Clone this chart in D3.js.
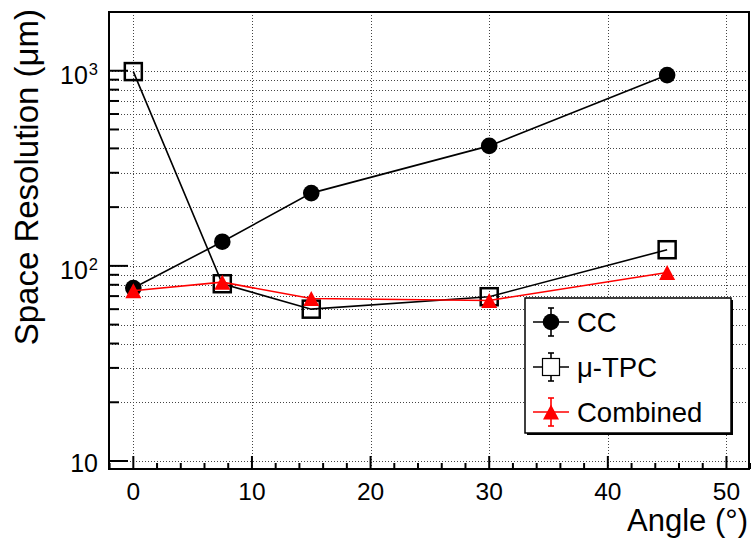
<!DOCTYPE html>
<html>
<head>
<meta charset="utf-8">
<script src="https://cdn.jsdelivr.net/npm/d3@7"></script>
<style>
  body { margin: 0; background: #fff; }
  svg { font-family: "Liberation Sans", Arial, Helvetica, sans-serif; }
</style>
</head>
<body>
<div id="chart"></div>
<script>
// Angles (degrees) of the measurements.
const angles = [0, 7.5, 15, 30, 45];

// Space resolution values (um).
const ccValues = [77, 133, 236, 412, 950];
const tpcValues = [990, 81, 60, 69.5, 121];
const combinedValues = [74.5, 82.5, 68, 66.5, 92.5];

const xMajorTicks = [0, 10, 20, 30, 40, 50];
const xMinorTicks = [-2, 2, 4, 6, 8, 12, 14, 16, 18, 22, 24, 26, 28, 32, 34, 36, 38, 42, 44, 46, 48, 52];
const yMajorTicks = [10, 100, 1000];
const yMinorTicks = [20, 30, 40, 50, 60, 70, 80, 90, 200, 300, 400, 500, 600, 700, 800, 900, 2000];

const legendLabels = ['CC', 'μ-TPC', 'Combined'];

(function() {
  // Visualization size.
  const width = 751;
  const height = 540;

  // Frame of the plot.
  const left = 109, right = 749, top = 12, bottom = 469;

  const svg = d3.select('#chart')
    .append('svg')
    .attr('width', width)
    .attr('height', height);

  const x = d3.scaleLinear().domain([-2.05, 51.9]).range([left, right]);
  const y = d3.scaleLog().domain([9.1, 2000]).range([bottom, top]);

  // Dotted grid.
  const grid = svg.append('g').classed('grid', true)
    .style('stroke', '#444')
    .style('stroke-width', 1)
    .style('stroke-dasharray', '1,2');

  grid.selectAll('line.gx')
    .data(xMajorTicks)
    .enter()
    .append('line')
    .attr('x1', d => Math.round(x(d)) + 0.5)
    .attr('x2', d => Math.round(x(d)) + 0.5)
    .attr('y1', top)
    .attr('y2', bottom);

  grid.selectAll('line.gy')
    .data(yMajorTicks.concat(yMinorTicks).filter(d => d < 2000))
    .enter()
    .append('line')
    .attr('x1', left)
    .attr('x2', right)
    .attr('y1', d => Math.round(y(d)) + 0.5)
    .attr('y2', d => Math.round(y(d)) + 0.5);

  // Ticks.
  const ticks = svg.append('g').style('stroke', '#000').style('stroke-width', 2);

  ticks.selectAll('line.xmaj')
    .data(xMajorTicks)
    .enter()
    .append('line')
    .attr('x1', d => x(d))
    .attr('x2', d => x(d))
    .attr('y1', bottom)
    .attr('y2', bottom - 13);

  ticks.selectAll('line.xmin')
    .data(xMinorTicks)
    .enter()
    .append('line')
    .attr('x1', d => x(d))
    .attr('x2', d => x(d))
    .attr('y1', bottom)
    .attr('y2', bottom - 6);

  ticks.selectAll('line.ymaj')
    .data(yMajorTicks)
    .enter()
    .append('line')
    .attr('x1', left)
    .attr('x2', left + 19)
    .attr('y1', d => y(d))
    .attr('y2', d => y(d));

  ticks.selectAll('line.ymin')
    .data(yMinorTicks)
    .enter()
    .append('line')
    .attr('x1', left)
    .attr('x2', left + 10)
    .attr('y1', d => y(d))
    .attr('y2', d => y(d));

  // Frame.
  svg.append('rect')
    .attr('x', left)
    .attr('y', top)
    .attr('width', right - left)
    .attr('height', bottom - top)
    .style('fill', 'none')
    .style('stroke', '#000')
    .style('stroke-width', 2);

  // X tick labels.
  svg.append('g')
    .selectAll('text')
    .data(xMajorTicks)
    .enter()
    .append('text')
    .text(d => d)
    .attr('x', d => x(d))
    .attr('y', 500)
    .style('text-anchor', 'middle')
    .style('font-size', '24.5px');

  // Y tick labels, powers of ten.
  const yl = svg.append('g')
    .selectAll('text')
    .data(yMajorTicks)
    .enter()
    .append('text')
    .attr('x', 98)
    .attr('y', d => y(d) + (d > 10 ? 13 : 10.5))
    .style('text-anchor', 'end')
    .style('font-size', '25px');
  yl.append('tspan').text('10');
  yl.filter(d => d > 10)
    .append('tspan')
    .text(d => Math.round(Math.log10(d)))
    .attr('dx', 1)
    .attr('dy', -8.5)
    .style('font-size', '16.5px');

  // Axis titles.
  svg.append('text')
    .text('Angle (°)')
    .attr('x', 748)
    .attr('y', 531)
    .style('text-anchor', 'end')
    .style('font-size', '31px');

  svg.append('text')
    .text('Space Resolution (μm)')
    .attr('transform', 'translate(38, 9) rotate(-90)')
    .style('text-anchor', 'end')
    .style('font-size', '33px');

  const line = d3.line()
    .x(d => x(d[0]))
    .y(d => y(d[1]));

  const series = [
    { name: legendLabels[0], values: ccValues, color: '#000', marker: 'circle' },
    { name: legendLabels[1], values: tpcValues, color: '#000', marker: 'square' },
    { name: legendLabels[2], values: combinedValues, color: '#f00', marker: 'triangle' }
  ];

  const drawMarker = (g, marker, color) => {
    if (marker === 'circle') {
      g.append('circle').attr('r', 8.3).style('fill', color);
    } else if (marker === 'square') {
      g.append('rect')
        .attr('x', -8.5).attr('y', -8.5)
        .attr('width', 17).attr('height', 17)
        .style('fill', 'none')
        .style('stroke', color)
        .style('stroke-width', 2.5);
    } else {
      g.append('path')
        .attr('d', 'M0,-7.5L8,7.5L-8,7.5Z')
        .style('fill', color);
    }
  };

  series.forEach(s => {
    const pts = angles.map((a, i) => [a, s.values[i]]);
    const g = svg.append('g');
    g.append('path')
      .datum(pts)
      .attr('d', line)
      .style('fill', 'none')
      .style('stroke', s.color)
      .style('stroke-width', 1.6);
    g.selectAll('g.pt')
      .data(pts)
      .enter()
      .append('g')
      .attr('transform', d => `translate(${x(d[0])}, ${y(d[1])})`)
      .each(function() { drawMarker(d3.select(this), s.marker, s.color); });
  });

  // Legend with shadow.
  const lx = 525, ly = 298, lw = 206, lh = 135;
  svg.append('rect')
    .attr('x', lx + 2).attr('y', ly + 2)
    .attr('width', lw).attr('height', lh)
    .style('fill', '#000');
  svg.append('rect')
    .attr('x', lx).attr('y', ly)
    .attr('width', lw).attr('height', lh)
    .style('fill', '#fff')
    .style('stroke', '#000')
    .style('stroke-width', 1.5);

  const items = svg.append('g')
    .selectAll('g')
    .data(series)
    .enter()
    .append('g')
    .attr('transform', (d, i) => `translate(551, ${322 + i * 45})`);

  items.append('line')
    .attr('x1', -18).attr('x2', 18)
    .style('stroke', d => d.color).style('stroke-width', 1.6);
  items.append('line')
    .attr('y1', -14).attr('y2', 14)
    .style('stroke', d => d.color).style('stroke-width', 1.6);
  items.append('line')
    .attr('x1', -3).attr('x2', 3).attr('y1', -14).attr('y2', -14)
    .style('stroke', d => d.color).style('stroke-width', 1.6);
  items.append('line')
    .attr('x1', -3).attr('x2', 3).attr('y1', 14).attr('y2', 14)
    .style('stroke', d => d.color).style('stroke-width', 1.6);
  items.each(function(d) {
    const g = d3.select(this);
    if (d.marker === 'square') {
      g.append('rect')
        .attr('x', -8.5).attr('y', -8.5)
        .attr('width', 17).attr('height', 17)
        .style('fill', '#fff')
        .style('stroke', d.color)
        .style('stroke-width', 1.2);
    } else {
      drawMarker(g, d.marker, d.color);
    }
  });

  items.append('text')
    .text(d => d.name)
    .attr('x', 26)
    .attr('y', 10)
    .style('font-size', '27.5px');
})();
</script>
</body>
</html>
